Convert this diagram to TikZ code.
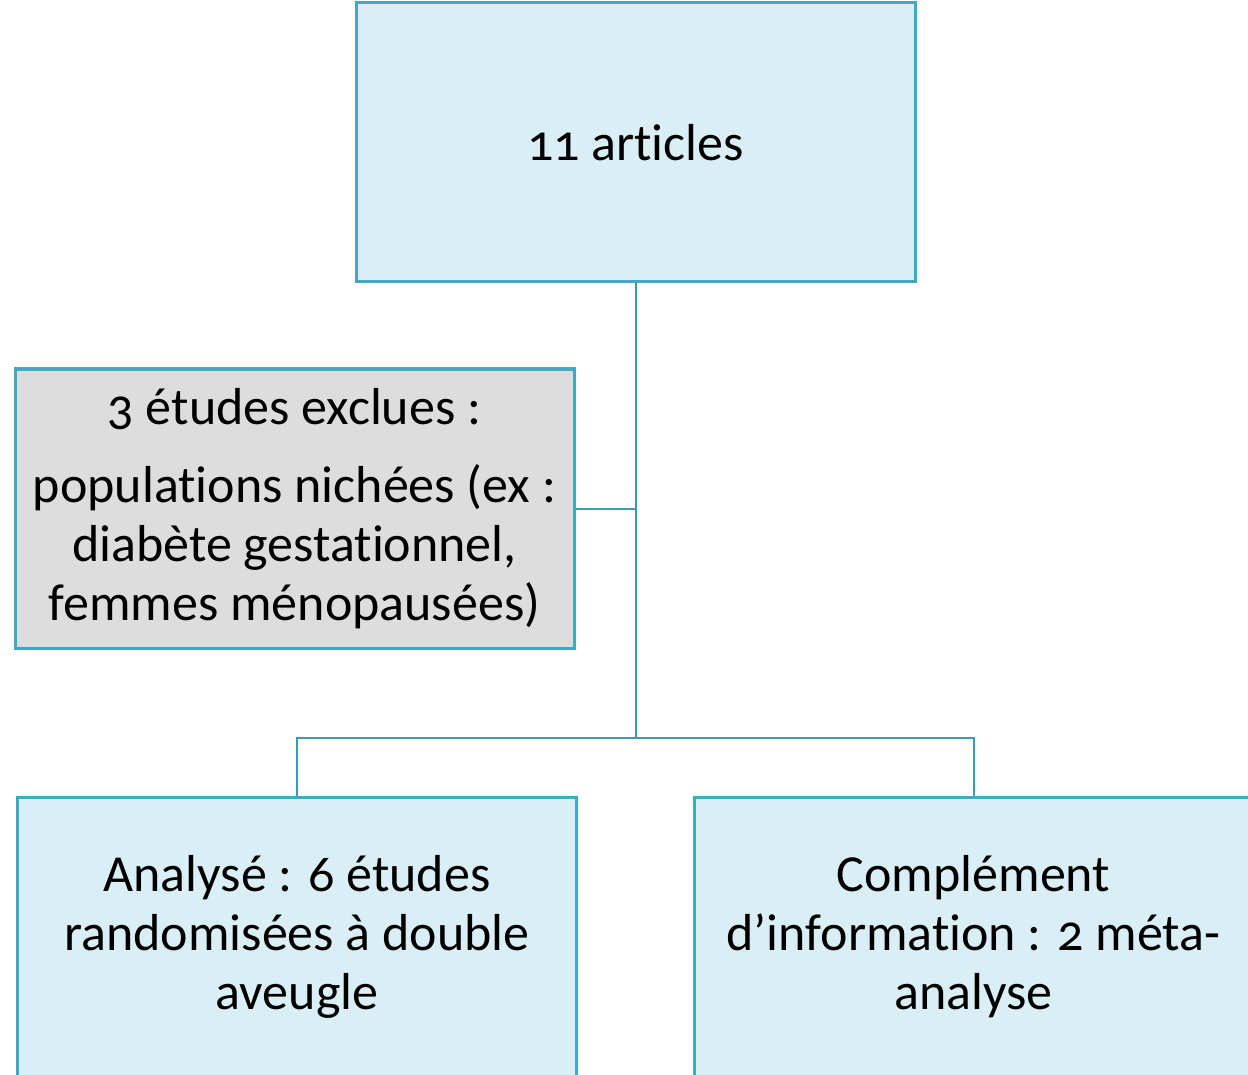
\documentclass[tikz,border=0pt]{standalone}
\usepackage{fontspec}
\setmainfont[Numbers=OldStyle,Ligatures=NoCommon]{Carlito}
\usepackage{xcolor}
\usepackage{tikz}
\definecolor{boxline}{HTML}{40AAC0}
\definecolor{boxfill}{HTML}{DAEFF5}
\definecolor{greyfill}{HTML}{DDDDDD}
\definecolor{linkline}{HTML}{3A9CAF}
\tikzset{box/.style={draw=boxline,fill=boxfill,line width=3pt,minimum width=559pt,minimum height=279pt,align=center,inner sep=0pt,font=\fontsize{52}{59}\selectfont},
grey box/.style={box,fill=greyfill},
link/.style={draw=linkline,line width=2pt}}

\begin{document}
\begin{tikzpicture}[x=1pt,y=-1pt]
				\clip (0,0) rectangle (1248,1075);
				\useasboundingbox (0,0) rectangle (1248,1075);
				\node[box] (top) at (635.5,142.5) {11 articles};
				\node[grey box] (excl) at (294.5,508.5) {3 études exclues :\\[19pt]populations nichées (ex :\\diabète gestationnel,\\femmes ménopausées)};
				\node[box] (left) at (297,937) {Analysé : 6 études\\randomisées à double\\aveugle};
				\node[box] (right) at (973.5,937) {Complément\\d’information : 2 méta-\\analyse};
				\coordinate (split) at (635.5,738);
				\draw[link] (top.south) -- (split);
				\draw[link] (excl.east) -- (excl.east -| top.south);
				\draw[link] (left.north) |- (split) -| (right.north);
			\end{tikzpicture}
\end{document}
